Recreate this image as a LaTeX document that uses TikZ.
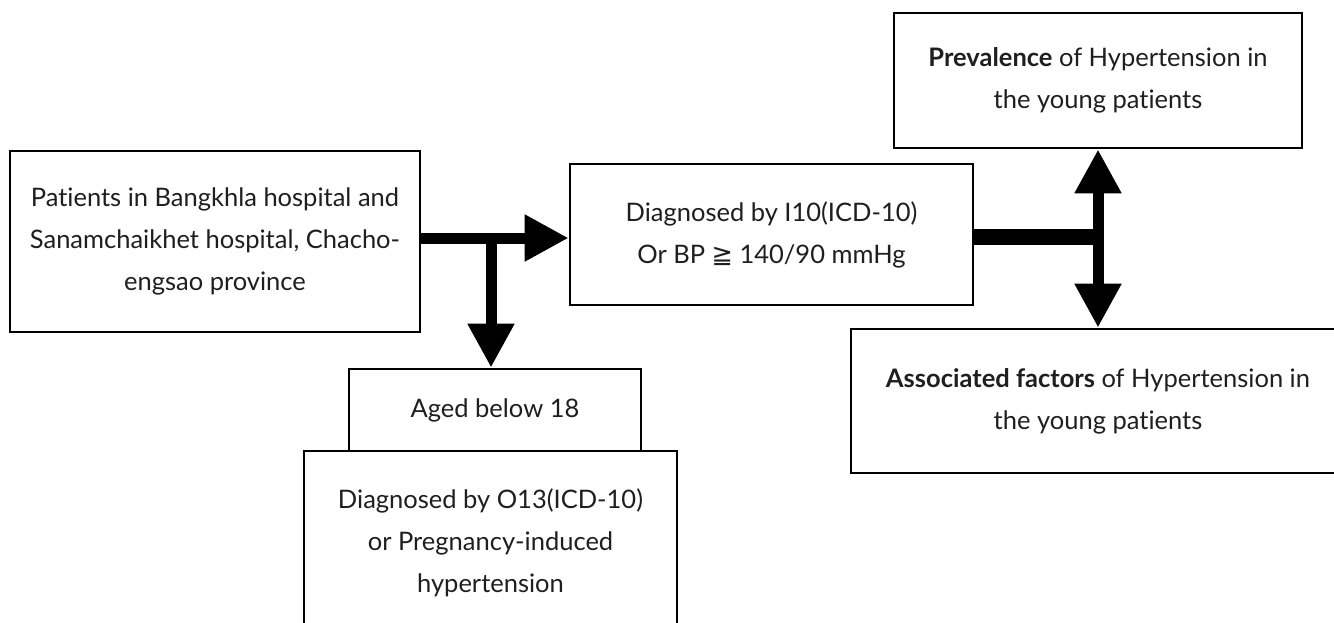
\documentclass[tikz,border=0pt]{standalone}
\usepackage{fontspec}
\setmainfont{Lato}[Ligatures=NoCommon]
\newfontfamily\symfont{DejaVu Sans}
\usetikzlibrary{arrows.meta}
\begin{document}
\begin{tikzpicture}[x=1pt,y=-1pt,
  box/.style={draw=black,line width=2.7pt,fill=white,inner sep=0pt,align=center,
    font=\fontsize{25.5}{42}\selectfont,text=black!88},
  thinbar/.style={line width=11pt,-{Triangle[width=44pt,length=44pt]}},
  thickbar/.style={line width=16pt}]
\useasboundingbox (0,0) rectangle (1334,622);
\fill[white] (0,0) rectangle (1334,622);
\node[box,minimum width=410pt,minimum height=181pt] (A) at (215,241.5)
  {Patients in Bangkhla hospital and\\Sanamchaikhet hospital, Chacho-\\engsao province};
\node[box,minimum width=403pt,minimum height=141pt] (B) at (771.5,234.5)
  {Diagnosed by I10(ICD-10)\\Or BP {\symfont ≧} 140/90 mmHg};
\node[box,minimum width=408pt,minimum height=135pt] (C) at (1098,80.5)
  {\textbf{Prevalence} of Hypertension in\\the young patients};
\node[box,minimum width=494pt,minimum height=144pt] (D) at (1098,401)
  {\textbf{Associated factors} of Hypertension in\\the young patients};
\node[box,minimum width=373pt,minimum height=184pt] (F) at (490.5,543)
  {Diagnosed by O13(ICD-10)\\or Pregnancy-induced\\hypertension};
\node[box,minimum width=292pt,minimum height=82pt] (E) at (495,410)
  {Aged below 18};
\coordinate (j1) at (491,238);
\coordinate (j2) at (1098,237);
\draw[thinbar] (A.east |- j1) -- (B.west |- j1);
\draw[thinbar] (j1) -- (j1 |- E.north);
\draw[thickbar] (B.east |- j2) -- ([xshift=5.5pt]j2);
\draw[thinbar] ([yshift=8pt]j2) -- (C.south);
\draw[thinbar] ([yshift=-8pt]j2) -- (D.north);
\end{tikzpicture}
\end{document}
